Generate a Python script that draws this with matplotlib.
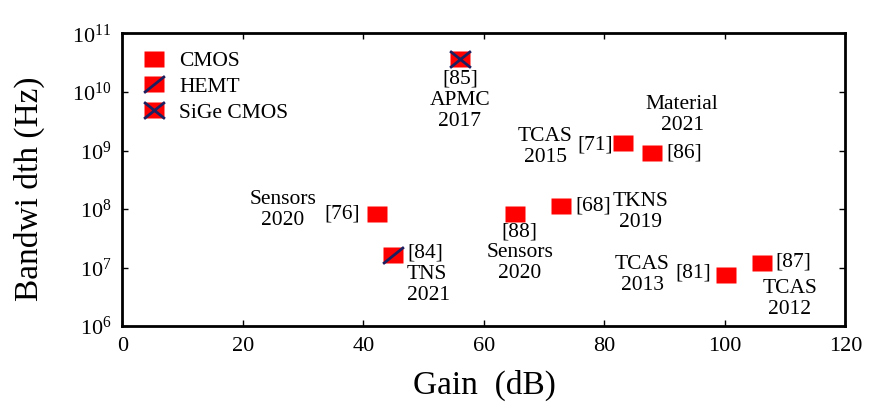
import matplotlib
matplotlib.use("Agg")
import matplotlib.pyplot as plt
from matplotlib.path import Path
from matplotlib.legend_handler import HandlerTuple
from matplotlib.ticker import LogLocator, NullLocator

plt.rcParams["font.family"] = ["Liberation Serif", "DejaVu Serif"]
plt.rcParams["mathtext.fontset"] = "custom"
plt.rcParams["mathtext.rm"] = "Liberation Serif"
plt.rcParams["mathtext.it"] = "Liberation Serif:italic"

# gain (dB) and bandwidth (Hz) of the reported amplifiers
cmos_refs = ["[76]", "[88]", "[68]", "[71]", "[86]", "[81]", "[87]"]
cmos_gain = [42.2, 65.1, 72.8, 83.1, 87.9, 100.2, 106.1]
cmos_bw = [8.2e7, 8.2e7, 1.12e8, 1.36e9, 9.1e8, 7.4e6, 1.19e7]
hemt_gain = [44.9]
hemt_bw = [1.63e7]
sige_gain = [56.0]
sige_bw = [3.6e10]

x_ticks = [0, 20, 40, 60, 80, 100, 120]

RED = "#ff0000"
NAVY = "#1c2060"
MS = 15

# marker shapes (slightly wider than tall)
rect = Path([(-1.25, -1), (1.25, -1), (1.25, 1), (-1.25, 1), (-1.25, -1)],
            [Path.MOVETO, Path.LINETO, Path.LINETO, Path.LINETO, Path.CLOSEPOLY])
slash = Path([(-1.25, -1), (1.25, 1)], [Path.MOVETO, Path.LINETO])
cross = Path([(-1.25, -1), (1.25, 1), (-1.25, 1), (1.25, -1)],
             [Path.MOVETO, Path.LINETO, Path.MOVETO, Path.LINETO])

fig = plt.figure(figsize=(8.7, 4.03), dpi=100)
ax = fig.add_axes([0.1408, 0.191, 0.8310, 0.7259])

h_cmos, = ax.plot(cmos_gain, cmos_bw, ls="none", marker=rect, ms=MS,
                  mfc=RED, mec="none")
h_hemt, = ax.plot(hemt_gain, hemt_bw, ls="none", marker=rect, ms=MS,
                  mfc=RED, mec="none")
h_hemt2, = ax.plot(hemt_gain, hemt_bw, ls="none", marker=slash, ms=MS,
                   mfc="none", mec=NAVY, mew=2)
h_sige, = ax.plot(sige_gain, sige_bw, ls="none", marker=rect, ms=MS,
                  mfc=RED, mec="none")
h_sige2, = ax.plot(sige_gain, sige_bw, ls="none", marker=cross, ms=MS,
                   mfc="none", mec=NAVY, mew=2)

ax.set_yscale("log")
ax.set_xlim(0, 120)
ax.set_ylim(1e6, 1e11)
ax.set_xticks(x_ticks)
ax.yaxis.set_major_locator(LogLocator(base=10, numticks=10))
ax.yaxis.set_minor_locator(NullLocator())

ax.tick_params(which="both", direction="in", top=True, right=True,
               length=4, width=1, labelsize=16)
ax.tick_params(axis="x", pad=8)
ax.tick_params(axis="y", pad=8)
for sp in ax.spines.values():
    sp.set_linewidth(2)

ax.set_xlabel("Gain  (dB)", fontsize=24, labelpad=10)
ax.set_ylabel("Bandwi dth (Hz)", fontsize=24)
ax.yaxis.set_label_coords(-0.107, 0.47)

# reference tags and venue/year notes, offset in pixels from each mark
FS = 15.5
c = dict(zip(cmos_refs, zip(cmos_gain, cmos_bw)))
notes = [
    ("[85]\nAPMC\n2017", (sige_gain[0], sige_bw[0]), (0, -10), "center", "top"),
    ("[76]", c["[76]"], (-17, 0), "right", "center"),
    ("Sensors\n2020", c["[76]"], (-94, 4), "center", "center"),
    ("[84]\nTNS\n2021", (hemt_gain[0], hemt_bw[0]), (14, -19), "left", "center"),
    ("[88]\nSensors\n2020", c["[88]"], (5, -8), "center", "top"),
    ("[68]", c["[68]"], (14, 0), "left", "center"),
    ("TKNS\n2019", c["[68]"], (79, -6), "center", "center"),
    ("[71]", c["[71]"], (-10, -2), "right", "center"),
    ("TCAS\n2015", c["[71]"], (-78, -4), "center", "center"),
    ("[86]", c["[86]"], (14, 0), "left", "center"),
    ("Material\n2021", c["[86]"], (30, 38), "center", "center"),
    ("[81]", c["[81]"], (-15, 2), "right", "center"),
    ("TCAS\n2013", c["[81]"], (-84, 0), "center", "center"),
    ("[87]", c["[87]"], (14, 1), "left", "center"),
    ("TCAS\n2012", c["[87]"], (28, -36), "center", "center"),
]
for text, xy, off, ha, va in notes:
    ax.annotate(text, xy=xy, xytext=off, textcoords="offset pixels",
                ha=ha, va=va, ma=ha if ha != "right" else "center",
                fontsize=FS, linespacing=1.15)

ax.legend([h_cmos, (h_hemt, h_hemt2), (h_sige, h_sige2)],
          ["CMOS", "HEMT", "SiGe CMOS"],
          handler_map={tuple: HandlerTuple(ndivide=1)},
          loc="upper left", bbox_to_anchor=(0.028, 0.94),
          frameon=False, fontsize=15.5, handlelength=1.0,
          handletextpad=0.7, labelspacing=0.27, borderpad=0,
          borderaxespad=0, numpoints=1)

fig.savefig("out.png", dpi=100)
